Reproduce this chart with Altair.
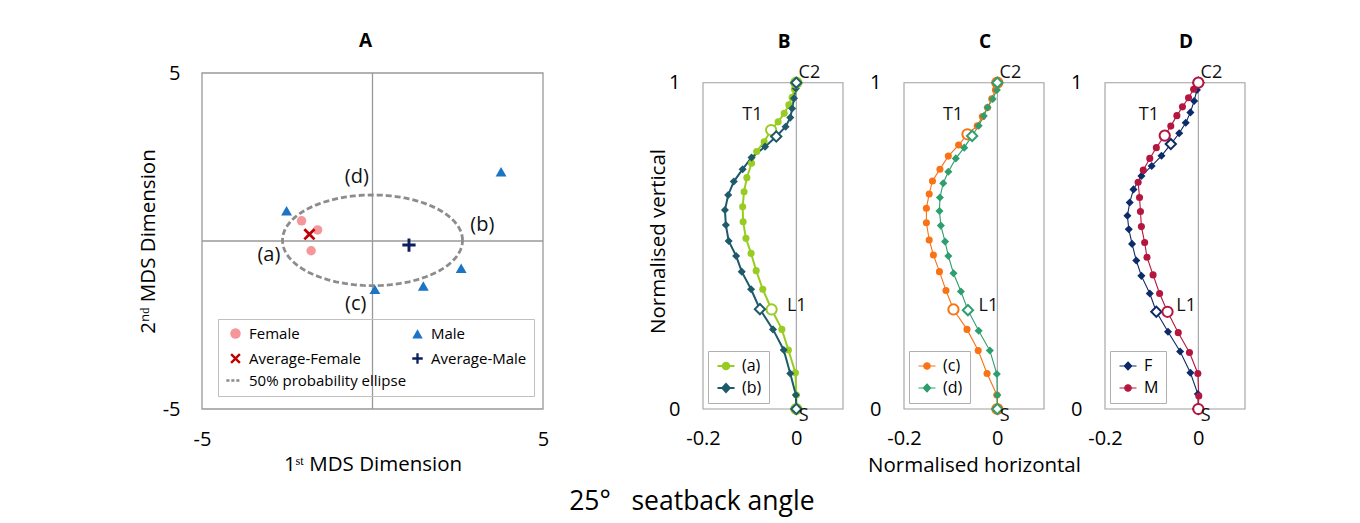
import altair as alt
import numpy as np
import pandas as pd

FONT = "Open Sans"
BOX = "#A0A0A0"

# ---------------- Panel A : MDS map ----------------
female_x = [-2.08, -1.61, -1.80]
female_y = [0.60, 0.33, -0.29]
male_x = [-2.52, 3.77, 2.60, 1.49, 0.07]
male_y = [0.90, 2.06, -0.81, -1.34, -1.44]
avg_female_x = [-1.85]
avg_female_y = [0.20]
avg_male_x = [1.07]
avg_male_y = [-0.12]
ellipse_cx, ellipse_cy = 0.0, 0.02
ellipse_rx, ellipse_ry = 2.64, 1.35
region_labels = ["(a)", "(b)", "(c)", "(d)"]
region_x = [-3.04, 3.22, -0.49, -0.46]
region_y = [-0.42, 0.48, -1.88, 1.90]
a_groups = ["Female", "Male", "Average-Female", "Average-Male", "50% probability ellipse"]
a_colors = ["#F4969A", "#1C75C4", "#C00000", "#0B1F5C", "#8C8C8C"]

# ---------------- Panels B-D : spine profiles ----------------
levels = ["C2", "C3", "C4", "C5", "C6", "C7", "T1", "T2", "T3", "T4", "T5", "T6",
          "T7", "T8", "T9", "T10", "T11", "T12", "L1", "L2", "L3", "L4", "L5", "S"]
open_levels = ["C2", "T1", "L1", "S"]

a_x = [0, -0.004, -0.009, -0.016, -0.026, -0.039, -0.054, -0.069, -0.085, -0.096, -0.106, -0.112,
       -0.115, -0.114, -0.108, -0.097, -0.086, -0.072, -0.053, -0.031, -0.017, -0.002, 0, 0]
a_y = [1, 0.980, 0.955, 0.932, 0.906, 0.880, 0.855, 0.819, 0.789, 0.753, 0.709, 0.666,
       0.620, 0.574, 0.523, 0.477, 0.424, 0.367, 0.305, 0.244, 0.181, 0.111, 0.043, 0]
b_x = [0, -0.001, -0.005, -0.009, -0.013, -0.023, -0.043, -0.067, -0.096, -0.115, -0.134, -0.146,
       -0.153, -0.151, -0.145, -0.129, -0.117, -0.097, -0.078, -0.050, -0.027, -0.013, -0.001, 0]
b_y = [1, 0.982, 0.952, 0.921, 0.893, 0.865, 0.835, 0.804, 0.771, 0.735, 0.697, 0.656,
       0.610, 0.564, 0.515, 0.469, 0.421, 0.367, 0.306, 0.244, 0.181, 0.109, 0.043, 0]
c_x = [0, -0.004, -0.012, -0.021, -0.032, -0.043, -0.064, -0.083, -0.105, -0.123, -0.139, -0.146,
       -0.152, -0.152, -0.146, -0.137, -0.124, -0.110, -0.094, -0.065, -0.041, -0.022, -0.001, 0]
c_y = [1, 0.978, 0.951, 0.924, 0.896, 0.868, 0.842, 0.809, 0.775, 0.735, 0.699, 0.659,
       0.615, 0.571, 0.518, 0.472, 0.421, 0.363, 0.305, 0.244, 0.179, 0.109, 0.043, 0]
d_x = [0, -0.001, -0.010, -0.021, -0.029, -0.040, -0.054, -0.071, -0.089, -0.105, -0.116, -0.123,
       -0.124, -0.121, -0.112, -0.105, -0.094, -0.078, -0.063, -0.040, -0.016, -0.001, 0, 0]
d_y = [1, 0.978, 0.950, 0.924, 0.898, 0.868, 0.837, 0.801, 0.768, 0.727, 0.692, 0.648,
       0.607, 0.562, 0.513, 0.469, 0.416, 0.360, 0.303, 0.240, 0.179, 0.107, 0.043, 0]
f_x = [0, -0.003, -0.009, -0.017, -0.027, -0.041, -0.059, -0.079, -0.100, -0.122, -0.139, -0.147,
       -0.152, -0.149, -0.142, -0.133, -0.122, -0.104, -0.090, -0.065, -0.039, -0.017, -0.001, 0]
f_y = [1, 0.978, 0.944, 0.909, 0.877, 0.845, 0.812, 0.776, 0.745, 0.714, 0.673, 0.633,
       0.592, 0.551, 0.506, 0.455, 0.408, 0.354, 0.298, 0.237, 0.176, 0.111, 0.046, 0]
m_x = [0, -0.010, -0.021, -0.034, -0.046, -0.059, -0.072, -0.090, -0.104, -0.118, -0.129, -0.126,
       -0.124, -0.122, -0.115, -0.110, -0.097, -0.083, -0.066, -0.043, -0.019, -0.001, 0.001, 0]
m_y = [1, 0.980, 0.954, 0.926, 0.899, 0.867, 0.838, 0.801, 0.768, 0.732, 0.695, 0.648,
       0.605, 0.559, 0.510, 0.465, 0.411, 0.354, 0.298, 0.234, 0.173, 0.109, 0.040, 0]

level_labels = ["C2", "T1", "L1", "S"]
label_y = [1.03, 0.90, 0.315, -0.02]
b_label_x = [0.028, -0.094, 0.001, 0.016]
c_label_x = [0.028, -0.095, -0.019, 0.016]
d_label_x = [0.028, -0.106, -0.026, 0.016]

X_MIN, X_MAX = -0.2, 0.1
Y_TOP = 336 / 326.3

CIRCLE_P = "M0.65,0A0.65,0.65,0,1,1,-0.65,0A0.65,0.65,0,1,1,0.65,0Z"
DIAMOND_P = "M0,-0.8L0.75,0L0,0.8L-0.75,0Z"
LINE_P = "M-1.7,0H1.7"
X_P = "M-1,-0.68L-0.68,-1L0,-0.32L0.68,-1L1,-0.68L0.32,0L1,0.68L0.68,1L0,0.32L-0.68,1L-1,0.68L-0.32,0Z"
PLUS_P = "M-0.22,-1H0.22V-0.22H1V0.22H0.22V1H-0.22V0.22H-1V-0.22H-0.22Z"
DASH_P = "M-1.75,0H-1.15M-0.8,0H-0.2M0.15,0H0.75"


def pick(names, values):
    expr = "'" + str(values[-1]) + "'"
    for n, v in reversed(list(zip(names[:-1], values[:-1]))):
        expr = "datum.value === '" + n + "' ? '" + str(v) + "' : (" + expr + ")"
    return expr


def txt_axis(**kw):
    base = dict(domain=False, ticks=False, tickSize=0, grid=False, labelFontSize=20,
                labelColor="#000", titleColor="#000", titleFontSize=20.5,
                titleFontWeight="normal", labelFlush=False, labelExpr="'' + datum.value")
    base.update(kw)
    return alt.Axis(**base)


# ---------- Panel A ----------
ptsA = pd.DataFrame({
    "group": ["Female"] * len(female_x) + ["Male"] * len(male_x)
    + ["Average-Female"] + ["Average-Male"],
    "x": female_x + male_x + avg_female_x + avg_male_x,
    "y": female_y + male_y + avg_female_y + avg_male_y,
})
t = np.linspace(0, 2 * np.pi, 121)
ellA = pd.DataFrame({"i": np.arange(len(t)),
                     "x": ellipse_cx + ellipse_rx * np.cos(t),
                     "y": ellipse_cy + ellipse_ry * np.sin(t)})
sxA = alt.Scale(domain=[-5, 5], nice=False, zero=False)
syA = alt.Scale(domain=[-5, 5], nice=False, zero=False)

boxA = alt.Chart(pd.DataFrame({"x": [-5], "x2": [5], "y": [-5], "y2": [5]})).mark_rect(
    fillOpacity=0, stroke="#999999", strokeWidth=1.3).encode(
    x=alt.X("x:Q", scale=sxA, axis=txt_axis(values=[-5, 5], labelPadding=20,
                                             title="1ˢᵗ MDS Dimension", titlePadding=5)),
    x2="x2:Q",
    y=alt.Y("y:Q", scale=syA, axis=txt_axis(values=[-5, 5], labelPadding=22,
                                             title="2ⁿᵈ MDS Dimension", titlePadding=4)),
    y2="y2:Q")
crossA = alt.Chart(pd.DataFrame({"x": [0, -5], "x2": [0, 5], "y": [-5, 0], "y2": [5, 0]})).mark_rule(
    color="#999999", strokeWidth=1.3).encode(x="x:Q", x2="x2:Q", y="y:Q", y2="y2:Q")
ellLine = alt.Chart(ellA).mark_line(color="#8C8C8C", strokeWidth=2.8, strokeDash=[6, 3]).encode(
    x="x:Q", y="y:Q", order="i:Q")
legA = alt.Legend(
    title=None, orient="none", legendX=16, legendY=246, columns=2, direction="horizontal",
    columnPadding=0, strokeColor="#C0C0C0", padding=7, rowPadding=4, symbolOffset=3,
    labelOffset=6, labelFontSize=15, labelColor="#000", labelLimit=300, symbolSize=110,
    symbolStrokeWidth=2.6,
    symbolType={"expr": pick(a_groups, ["circle", "triangle-up", X_P, PLUS_P, DASH_P])},
    symbolStrokeColor={"expr": pick(a_groups, ["transparent"] * 4 + [a_colors[4]])})
ptsLayer = alt.Chart(ptsA).mark_point(filled=True, opacity=1).encode(
    x="x:Q", y="y:Q",
    color=alt.Color("group:N", scale=alt.Scale(domain=a_groups, range=a_colors), legend=legA),
    shape=alt.Shape("group:N", scale=alt.Scale(domain=a_groups,
                    range=["circle", "triangle-up", X_P, PLUS_P, DASH_P]), legend=None),
    size=alt.Size("group:N", scale=alt.Scale(domain=a_groups[:4], range=[90, 175, 210, 200]),
                  legend=None))
regA = alt.Chart(pd.DataFrame({"t": region_labels, "x": region_x, "y": region_y})).mark_text(
    fontSize=20, color="#111").encode(x="x:Q", y="y:Q", text="t:N")

panelA = alt.layer(boxA, crossA, ellLine, ptsLayer, regA).properties(
    width=341, height=336,
    title=alt.TitleParams("A", fontSize=19, fontWeight="bold", anchor="middle",
                          frame="group", offset=12, dx=-7, color="#000"))


# ---------- Panels B-D ----------
def profile_panel(title, names, xs, ys, colors, marks, stroke_w, lab_x, y_title, x_title):
    rows = []
    for n, xv, yv in zip(names, xs, ys):
        for i, (lv, x, y) in enumerate(zip(levels, xv, yv)):
            rows.append(dict(series=n, marker=n + " ", idx=i, level=lv, x=x, y=y,
                             hollow=lv in open_levels))
    df = pd.DataFrame(rows)
    sx = alt.Scale(domain=[X_MIN, X_MAX], nice=False, zero=False)
    sy = alt.Scale(domain=[0, Y_TOP], nice=False, zero=False)
    if x_title:
        xa = txt_axis(values=[-0.2, 0], labelPadding=19, title=x_title, titlePadding=7)
    else:
        xa = txt_axis(values=[-0.2, 0], labelPadding=19, title=None)
    if y_title:
        ya = txt_axis(values=[0, 1], labelPadding=23, title=y_title, titlePadding=0)
    else:
        ya = txt_axis(values=[0, 1], labelPadding=23, title=None)
    box = alt.Chart(pd.DataFrame({"x": [X_MIN], "x2": [X_MAX], "y": [0], "y2": [1]})).mark_rect(
        fillOpacity=0, stroke=BOX, strokeWidth=1.1).encode(
        x=alt.X("x:Q", scale=sx, axis=xa), x2="x2:Q",
        y=alt.Y("y:Q", scale=sy, axis=ya), y2="y2:Q")
    zero = alt.Chart(pd.DataFrame({"x": [0], "y": [0], "y2": [1]})).mark_rule(
        color=BOX, strokeWidth=1.1).encode(x="x:Q", y="y:Q", y2="y2:Q")
    legend_shapes = [LINE_P + (CIRCLE_P if m == "circle" else DIAMOND_P) for m in marks]
    leg = alt.Legend(
        title=None, orient="none", legendX=5, legendY=278, strokeColor="#B0B0B0",
        padding=7, rowPadding=6, symbolOffset=3, labelOffset=8, labelFontSize=16,
        labelColor="#000", symbolSize=100, symbolStrokeWidth=stroke_w,
        symbolType={"expr": pick(names, legend_shapes)},
        symbolStrokeColor={"expr": pick(names, colors)},
        symbolFillColor={"expr": pick(names, colors)})
    color = alt.Color("series:N", scale=alt.Scale(domain=names, range=colors), legend=leg)
    mnames = [n + " " for n in names]
    shape = alt.Shape("marker:N", scale=alt.Scale(domain=mnames, range=marks), legend=None)
    size = alt.Size("marker:N", scale=alt.Scale(domain=mnames,
                    range=[50 if m == "circle" else 65 for m in marks]), legend=None)
    line = alt.Chart(df).mark_line(strokeWidth=stroke_w).encode(
        x="x:Q", y="y:Q", color=color, order="idx:Q")
    solid = alt.Chart(df[~df.hollow]).mark_point(filled=True, opacity=1).encode(
        x="x:Q", y="y:Q", color=color, shape=shape, size=size)
    hollow = alt.Chart(df[df.hollow]).mark_point(filled=False, fill="white", opacity=1,
                                                 strokeWidth=2, size=105).encode(
        x="x:Q", y="y:Q", color=color, shape=shape)
    labs = alt.Chart(pd.DataFrame({"t": level_labels, "x": lab_x, "y": label_y})).mark_text(
        fontSize=18, color="#111").encode(x="x:Q", y="y:Q", text="t:N")
    return alt.layer(box, zero, line, solid, hollow, labs).properties(
        width=140, height=336,
        title=alt.TitleParams(title, fontSize=19, fontWeight="bold", anchor="middle",
                              frame="group", offset=12, dx=11, color="#000"))


panelB = profile_panel("B", ["(a)", "(b)"], [a_x, b_x], [a_y, b_y],
                       ["#99CC22", "#1F5A6A"], ["circle", "diamond"], 2.0, b_label_x,
                       "Normalised vertical", None)
panelC = profile_panel("C", ["(c)", "(d)"], [c_x, d_x], [c_y, d_y],
                       ["#F97316", "#2E9E6E"], ["circle", "diamond"], 1.1, c_label_x,
                       None, "Normalised horizontal")
panelD = profile_panel("D", ["F", "M"], [f_x, m_x], [f_y, m_y],
                       ["#0D2A6B", "#B5163F"], ["diamond", "circle"], 1.1, d_label_x,
                       None, None)

right = alt.hconcat(panelB, panelC, panelD, spacing=61, bounds="flush").resolve_scale(
    x="independent", y="independent", color="independent", shape="independent",
    size="independent").resolve_legend(color="independent", shape="independent",
                                       size="independent")

chart = alt.hconcat(panelA, right, spacing=160, bounds="flush").resolve_scale(
    x="independent", y="independent", color="independent", shape="independent",
    size="independent").resolve_legend(color="independent", shape="independent",
                                       size="independent").properties(
    title=alt.TitleParams("25°\u00a0\u00a0 seatback angle", orient="bottom", anchor="middle",
                          fontSize=26.5, fontWeight="normal", color="#000", offset=13),
    padding={"left": 129, "top": 23, "right": 5, "bottom": 5},
).configure(font=FONT).configure_view(stroke="transparent")

chart.save("out.html", embed_options={"renderer": "svg", "actions": False})
